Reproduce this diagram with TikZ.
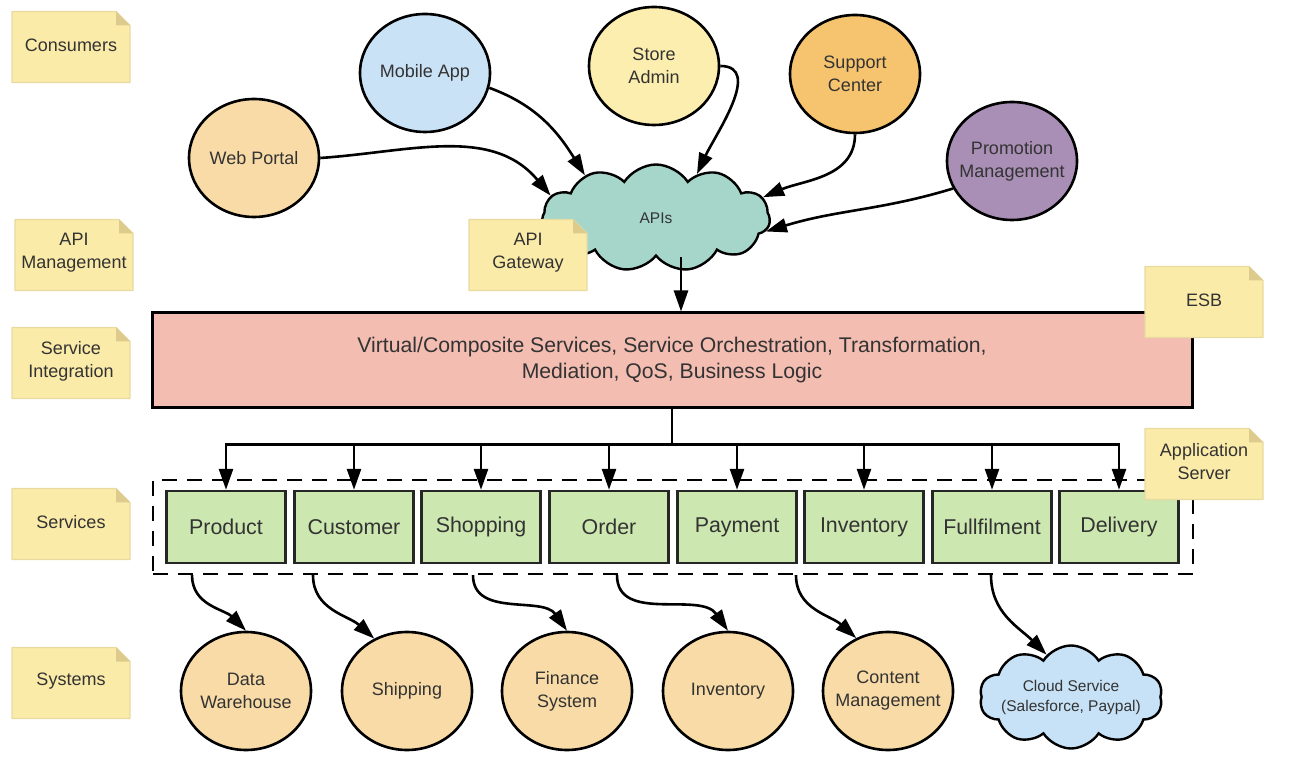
\documentclass[tikz,border=0pt]{standalone}
\usepackage{fontspec}
\setmainfont{Liberation Sans}
\usetikzlibrary{arrows.meta,shapes.geometric,shapes.symbols,calc}

\definecolor{notefill}{HTML}{FBEBA8}
\definecolor{noteedge}{HTML}{E8DBA2}
\definecolor{notefold}{HTML}{DCCB8C}
\definecolor{esbfill}{HTML}{F3BDB1}
\definecolor{svcfill}{HTML}{CDE7B0}
\definecolor{apifill}{HTML}{A5D6C9}
\definecolor{cloudfill}{HTML}{C7E2F6}
\definecolor{mobilefill}{HTML}{C9E2F6}
\definecolor{peach}{HTML}{F8DBA6}
\definecolor{storefill}{HTML}{FCEEAF}
\definecolor{supportfill}{HTML}{F6C46F}
\definecolor{promofill}{HTML}{A98EB5}
\definecolor{textcol}{HTML}{333333}

\tikzset{
  notetext/.style={align=center, text=textcol, font=\fontsize{18}{23}\selectfont, inner sep=0pt},
  ellip/.style={ellipse, draw=black, line width=2.6pt, minimum width=130pt, minimum height=118pt,
     align=center, text=textcol, font=\fontsize{18}{23}\selectfont, inner sep=-14pt},
  svc/.style={rectangle, draw=black!85, line width=2.4pt, fill=svcfill, minimum width=119pt,
     minimum height=72pt, text=textcol, font=\fontsize{21.4}{25}\selectfont, inner sep=0pt},
  cloudnode/.style={cloud, draw=black, line width=2.4pt, cloud puffs=11, cloud puff arc=115,
     aspect=2.1, align=center, text=textcol, inner sep=-14pt},
  arr/.style={line width=2.6pt, draw=black, -{Triangle[length=21pt,width=14pt]}},
  plainline/.style={line width=2.6pt, draw=black},
}

\newcommand\stickynote[3]{%
  \coordinate (#1c) at (#2);
  \filldraw[fill=notefill, draw=noteedge, line width=1.2pt, line join=round]
     ($(#1c)+(-59,-35.5)$) -- ($(#1c)+(-59,35.5)$) -- ($(#1c)+(45,35.5)$)
     -- ($(#1c)+(59,21.5)$) -- ($(#1c)+(59,-35.5)$) -- cycle;
  \fill[notefold] ($(#1c)+(45,35.5)$) -- ($(#1c)+(59,21.5)$) -- ($(#1c)+(45,21.5)$) -- cycle;
  \node[notetext] (#1) at ($(#1c)+(0,2)$) {#3};
}

\begin{document}
\begin{tikzpicture}[x=1pt,y=1pt]
\useasboundingbox[fill=white] (0,0) rectangle (1292,774);

% consumers
\node[ellip, fill=mobilefill] (mobile) at (425,701) {Mobile App};
\node[ellip, fill=peach] (web) at (254,616) {Web Portal};
\node[ellip, fill=storefill] (store) at (654,708) {Store\\Admin};
\node[ellip, fill=supportfill] (support) at (855,700) {Support\\Center};
\node[ellip, fill=promofill] (promo) at (1012,613) {Promotion\\Management};

% APIs cloud
\node[cloudnode, fill=apifill, minimum width=228pt, minimum height=107pt,
      font=\fontsize{15.5}{19}\selectfont] (apis) at (656,556) {APIs};

% ESB
\node[rectangle, draw=black, line width=3pt, fill=esbfill, minimum width=1040pt, minimum height=95pt,
      align=center, text=textcol, font=\fontsize{21.2}{26}\selectfont] (esb) at (672,413.5)
  {Virtual/Composite Services, Service Orchestration, Transformation,\\Mediation, QoS, Business Logic};

% application server group
\node[rectangle, draw=black, line width=2.6pt, dash pattern=on 15pt off 10pt,
      minimum width=1040pt, minimum height=94pt] (svcgroup) at (673,247) {};

\node[svc] (product) at (226,247) {Product};
\node[svc] (customer) at (354,247) {Customer};
\node[svc] (shopping) at (481,247) {Shopping};
\node[svc] (order) at (609,247) {Order};
\node[svc] (payment) at (737,247) {Payment};
\node[svc] (inventory) at (864,247) {Inventory};
\node[svc] (fullfilment) at (992,247) {Fullfilment};
\node[svc] (delivery) at (1119,247) {Delivery};

% systems
\node[ellip, fill=peach] (dw) at (246,83) {Data\\Warehouse};
\node[ellip, fill=peach] (shipping) at (407,83) {Shipping};
\node[ellip, fill=peach] (finance) at (567,83) {Finance\\System};
\node[ellip, fill=peach] (inv) at (728,83) {Inventory};
\node[ellip, fill=peach] (cms) at (888,83) {Content\\Management};
\node[cloudnode, fill=cloudfill, cloud puffs=10, minimum width=183pt, minimum height=103pt,
      inner xsep=-30pt, font=\fontsize{15.5}{20}\selectfont] (cloudsvc) at (1071,77) {Cloud Service\\(Salesforce, Paypal)};

% consumer arrows
\draw[arr] (web.east) to[out=4,in=130] (apis.168);
\draw[arr] (mobile.-13) to[out=-20,in=122] (apis.149);
\draw[arr] (store.east) to[out=0,in=65] (apis.47);
\draw[arr] (support.south) to[out=-90,in=23] (apis.11);
\draw[arr] (promo.205) to[out=197,in=17] (apis.-7);

% APIs -> ESB
\coordinate (apisout) at ([xshift=25pt]apis.south);
\draw[arr] (apisout) -- (apisout |- esb.north);

% ESB -> services
\draw[plainline] (esb.south) -- ++(0,-35) coordinate (br);
\draw[plainline, line cap=rect] (product.north |- br) -- (delivery.north |- br);
\foreach \s in {product,customer,shopping,order,payment,inventory,fullfilment,delivery}
  \draw[arr] (\s.north |- br) -- (\s.north);

% services -> systems
\draw[arr] ([shift={(-34pt,-11pt)}]product.south) to[out=-90,in=135] (dw.north);
\draw[arr] ([shift={(-41pt,-11pt)}]customer.south) to[out=-90,in=138] (shipping.122);
\draw[arr] ([shift={(-8pt,-11pt)}]shopping.south) to[out=-90,in=125] (finance.north);
\draw[arr] ([shift={(8pt,-11pt)}]order.south) to[out=-90,in=125] (inv.north);
\draw[arr] ([shift={(59pt,-11pt)}]payment.south) to[out=-90,in=138] (cms.121);
\draw[arr] ([shift={(-1pt,-11pt)}]fullfilment.south) to[out=-90,in=135] (cloudsvc.120);

% notes
\stickynote{nconsumers}{71,727}{Consumers}
\stickynote{napimgmt}{74,519}{API\\Management}
\stickynote{nservint}{71,411}{Service\\Integration}
\stickynote{nservices}{71,250}{Services}
\stickynote{nsystems}{71,91}{Systems}
\stickynote{napigw}{528,519}{API\\Gateway}
\stickynote{nesb}{1204,472}{ESB}
\stickynote{nappserver}{1204,310}{Application\\Server}
\end{tikzpicture}
\end{document}
